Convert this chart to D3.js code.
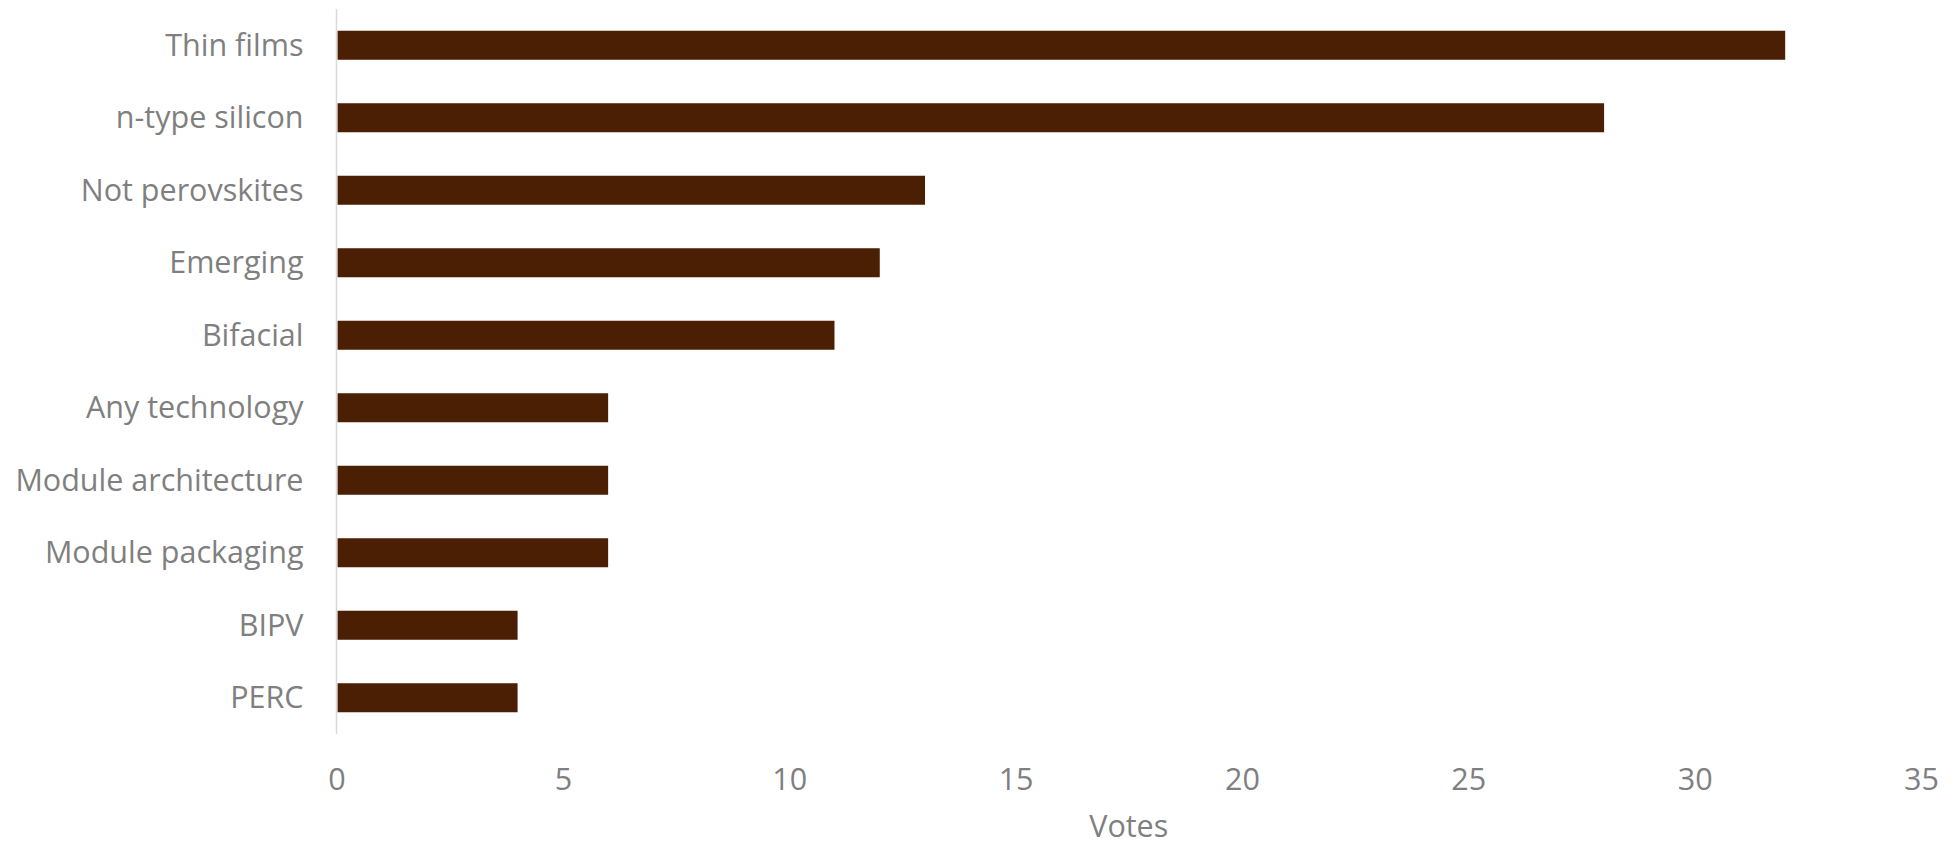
<!DOCTYPE html>
<html>
<head>
<meta charset="utf-8">
<script src="https://cdn.jsdelivr.net/npm/d3@7"></script>
<style>
  html, body { margin: 0; padding: 0; background: #ffffff; }
  svg { display: block; }
  text { font-family: "Open Sans", sans-serif; fill: #7f7f7f; }
</style>
</head>
<body>
<svg id="chart" width="1954" height="844"></svg>
<script>
// Votes per PV technology
const categories = ["Thin films", "n-type silicon", "Not perovskites", "Emerging", "Bifacial",
                    "Any technology", "Module architecture", "Module packaging", "BIPV", "PERC"];
const votes = [32, 28, 13, 12, 11, 6, 6, 6, 4, 4];
const xTicks = [0, 5, 10, 15, 20, 25, 30, 35];
const xTitle = "Votes";

const svg = d3.select("#chart");
const plot = { left: 336.5, right: 1921, top: 9, bottom: 734 };
const fontSize = "30.5px";

const x = d3.scaleLinear().domain([0, 35]).range([plot.left, plot.right]);
const y = d3.scaleBand().domain(categories).range([plot.top, plot.bottom]).paddingInner(0.6).paddingOuter(0.3);

// bars
svg.append("g").selectAll("rect")
  .data(categories)
  .join("rect")
  .attr("x", x(0) + 1)
  .attr("y", d => y(d))
  .attr("width", (d, i) => x(votes[i]) - x(0) - 1)
  .attr("height", y.bandwidth())
  .attr("fill", "#4a1f03");

// vertical axis line
svg.append("line")
  .attr("x1", x(0)).attr("x2", x(0))
  .attr("y1", plot.top).attr("y2", plot.bottom)
  .attr("stroke", "#d9d9d9").attr("stroke-width", 1.5);

// category labels
const yAxis = d3.axisLeft(y).tickSize(0).tickPadding(33);
const gy = svg.append("g").attr("transform", `translate(${x(0)},0)`).call(yAxis);
gy.select(".domain").remove();
gy.selectAll("text")
  .attr("dy", null)
  .attr("y", 10.5)
  .style("font-size", fontSize)
  .style("font-family", "'Open Sans', sans-serif")
  .attr("fill", "#7f7f7f");

// value axis labels
const xAxis = d3.axisBottom(x).tickValues(xTicks).tickSize(0).tickPadding(0);
const gx = svg.append("g").attr("transform", `translate(0,${plot.bottom})`).call(xAxis);
gx.select(".domain").remove();
gx.selectAll("text")
  .attr("dy", null)
  .attr("y", 56)
  .style("font-size", fontSize)
  .style("font-family", "'Open Sans', sans-serif")
  .attr("fill", "#7f7f7f");

// axis title
svg.append("text")
  .attr("x", (plot.left + plot.right) / 2)
  .attr("y", 837)
  .attr("text-anchor", "middle")
  .style("font-size", fontSize)
  .text(xTitle);
</script>
</body>
</html>
